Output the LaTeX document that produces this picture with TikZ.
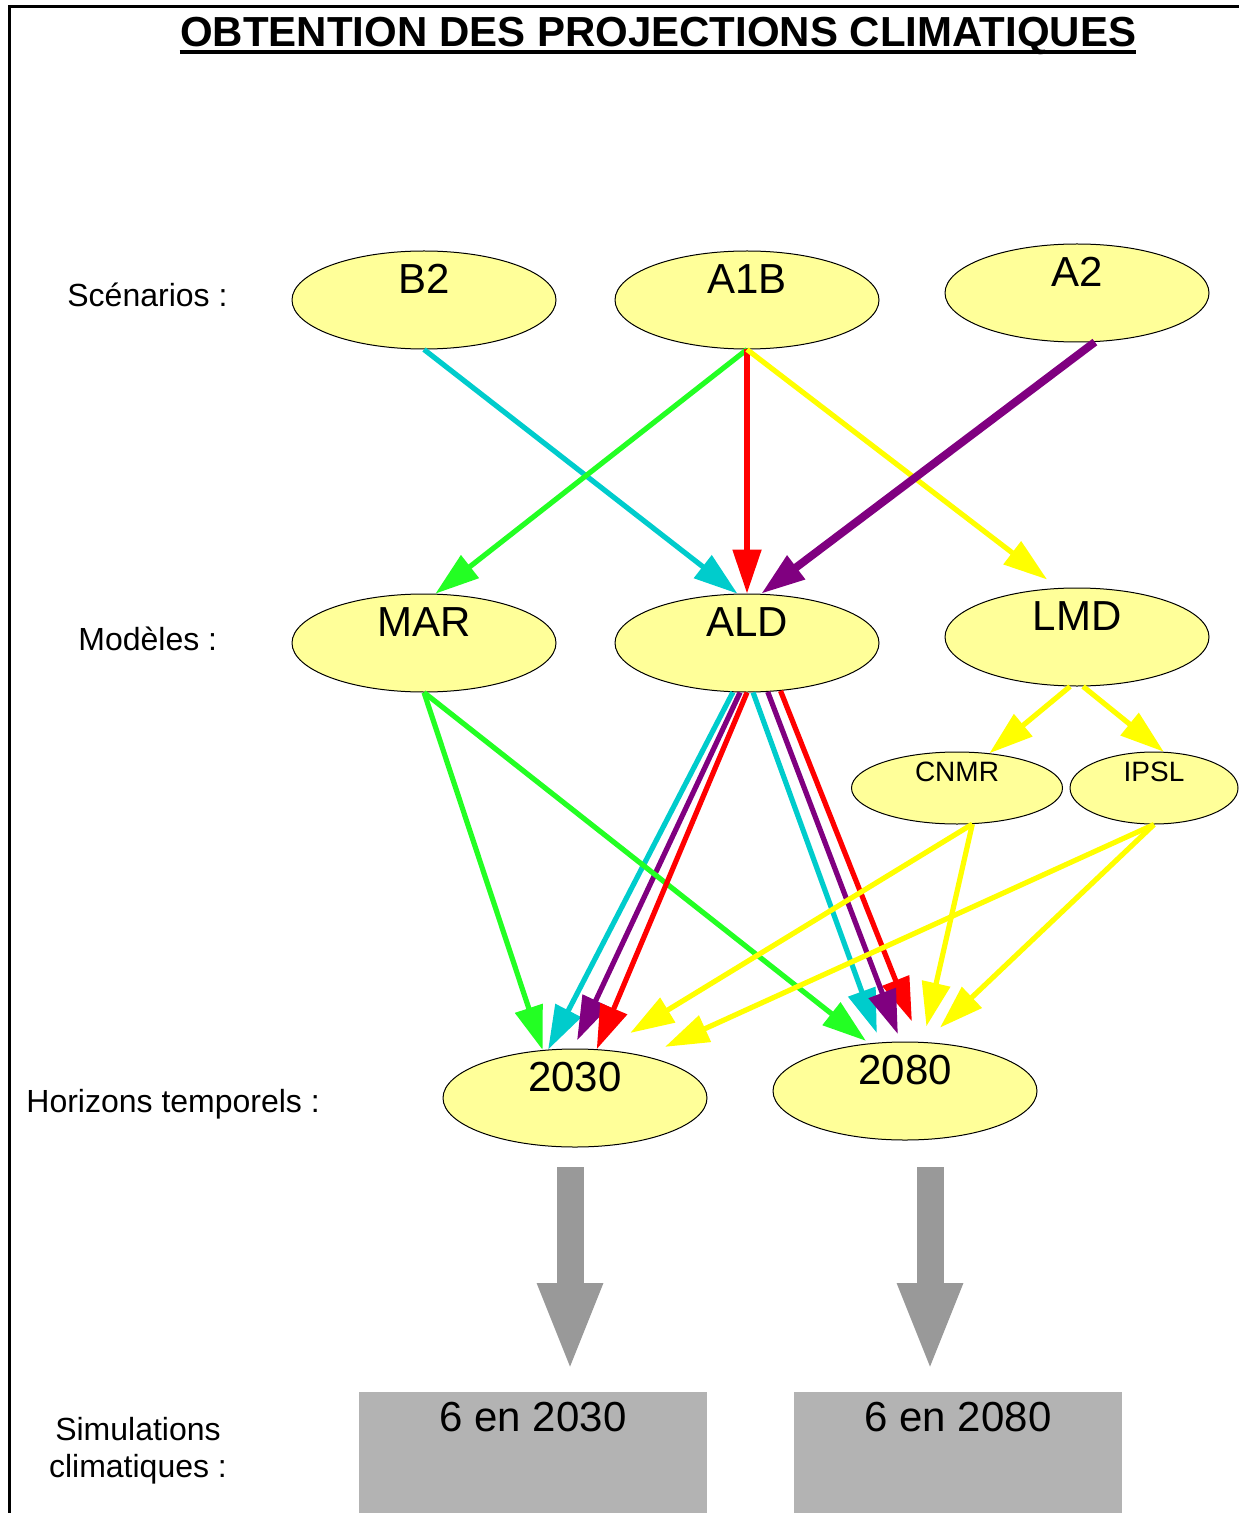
\documentclass[tikz,border=0pt]{standalone}
\usepackage{fontspec}
\setmainfont{Liberation Sans}
\usetikzlibrary{shapes.geometric,arrows.meta}
\definecolor{jaune}{RGB}{255,255,153}
\definecolor{cyanf}{RGB}{0,204,204}
\definecolor{vertf}{RGB}{35,255,35}
\definecolor{rougef}{RGB}{255,0,0}
\definecolor{jaunef}{RGB}{255,255,0}
\definecolor{violetf}{RGB}{128,0,128}
\definecolor{grisf}{RGB}{153,153,153}
\definecolor{grisb}{RGB}{179,179,179}
\begin{document}
\begin{tikzpicture}[x=0.5pt,y=-0.5pt]
        \tikzstyle{ovale} = [ellipse, draw=black, line width=0.5pt, fill=jaune, minimum width=132pt, minimum height=49pt, inner sep=0pt, text height=0pt, text depth=6.5pt, font=\fontsize{21}{25}\selectfont]
        \tikzstyle{petit} = [ovale, minimum width=105.5pt, minimum height=36pt, text depth=7pt, font=\fontsize{14}{17}\selectfont]
        \tikzstyle{legende} = [anchor=base west, inner sep=0pt, font=\fontsize{16}{18.5}\selectfont]
        \tikzstyle{boite} = [rectangle, fill=grisb, anchor=north, inner sep=0pt, minimum height=60.5pt, text height=19.5pt, text depth=41pt, font=\fontsize{21}{25}\selectfont]
        \tikzstyle{fleche} = [line width=2.6pt, -{Triangle[length=22pt,width=14pt]}]
        \tikzstyle{grossefleche} = [grisf, line width=13.5pt, -{Triangle[length=44.5pt,width=29.5pt]}]
        \useasboundingbox (0,0) rectangle (1239,1513);
        % cadre et titre
        \draw[line width=1.5pt] (9,1513) -- (9,7) -- (1239,7);
        \node (titre) [anchor=base, inner xsep=0pt, font=\fontsize{21}{25}\selectfont\bfseries] at (658,47) {OBTENTION DES PROJECTIONS CLIMATIQUES};
        \draw[line width=2pt] ([yshift=-2.5pt]titre.base west) -- ([yshift=-2.5pt]titre.base east);
        % legendes
        \node (scen) [legende] at (67,307) {Scénarios :};
        \node (mod) [legende] at (78,650) {Modèles :};
        \node (hor) [legende] at (26,1112) {Horizons temporels :};
        \node (simu) [legende, anchor=north, align=center] at (138,1417) {Simulations\\climatiques :};
        % ellipses
        \node (b2) [ovale] at (424,300) {B2};
        \node (a1b) [ovale] at (747,300) {A1B};
        \node (a2) [ovale] at (1077,293) {A2};
        \node (mar) [ovale] at (424,643) {MAR};
        \node (ald) [ovale] at (747,643) {ALD};
        \node (lmd) [ovale] at (1077,637) {LMD};
        \node (cnmr) [petit] at (957,788) {CNMR};
        \node (ipsl) [petit, minimum width=84pt] at (1154,788) {IPSL};
        \node (h30) [ovale] at (575,1098) {2030};
        \node (h80) [ovale] at (905,1091) {2080};
        % scenarios vers modeles
        \draw[fleche, cyanf] (b2.south) -- (ald.101);
        \draw[fleche, vertf] (a1b.south) -- (mar.77);
        \draw[fleche, rougef] (a1b.south) -- (ald.north);
        \draw[fleche, jaunef, shorten >=7pt] (a1b.south) -- (lmd.111);
        \draw[fleche, violetf, line width=4pt] (a2.-70) -- (ald.74);
        % modeles vers horizons
        \draw[fleche, cyanf] (ald.-106) -- (h30.119);
        \draw[fleche, violetf, shorten >=4.5pt] (ald.-98) -- (h30.92);
        \draw[fleche, vertf] (mar.south) -- (h30.124);
        \draw[fleche, vertf, shorten >=2pt] (mar.south) -- (h80.127);
        \draw[fleche, rougef] (ald.south) -- (h30.66);
        \draw[fleche, rougef, shorten >=11pt] (ald.-55) -- (h80.73);
        \draw[fleche, cyanf, shorten >=5pt] (ald.-83) -- (h80.117);
        \draw[fleche, violetf, shorten >=4pt] (ald.-67) -- (h80.95);
        \draw[fleche, jaunef] (lmd.-98) -- (cnmr.47);
        \draw[fleche, jaunef] (lmd.-83) -- (ipsl.75);
        \draw[fleche, jaunef, shorten >=16pt] (cnmr.-67) -- (h30.60);
        \draw[fleche, jaunef, shorten >=11pt] (ipsl.south) -- (h30.31);
        \draw[fleche, jaunef, shorten >=8pt] (cnmr.-67) -- (h80.70);
        \draw[fleche, jaunef, shorten >=10.5pt] (ipsl.south) -- (h80.68);
        % simulations
        \node (s30) [boite, minimum width=174pt] at (533,1392) {6 en 2030};
        \node (s80) [boite, minimum width=164pt] at (958,1392) {6 en 2080};
        \coordinate (g30a) at (570,1167);
        \coordinate (g30b) at (570,1372);
        \coordinate (g80a) at (930,1167);
        \coordinate (g80b) at (930,1372);
        \draw[grossefleche] (g30a) -- (g30b);
        \draw[grossefleche] (g80a) -- (g80b);
\end{tikzpicture}
\end{document}
